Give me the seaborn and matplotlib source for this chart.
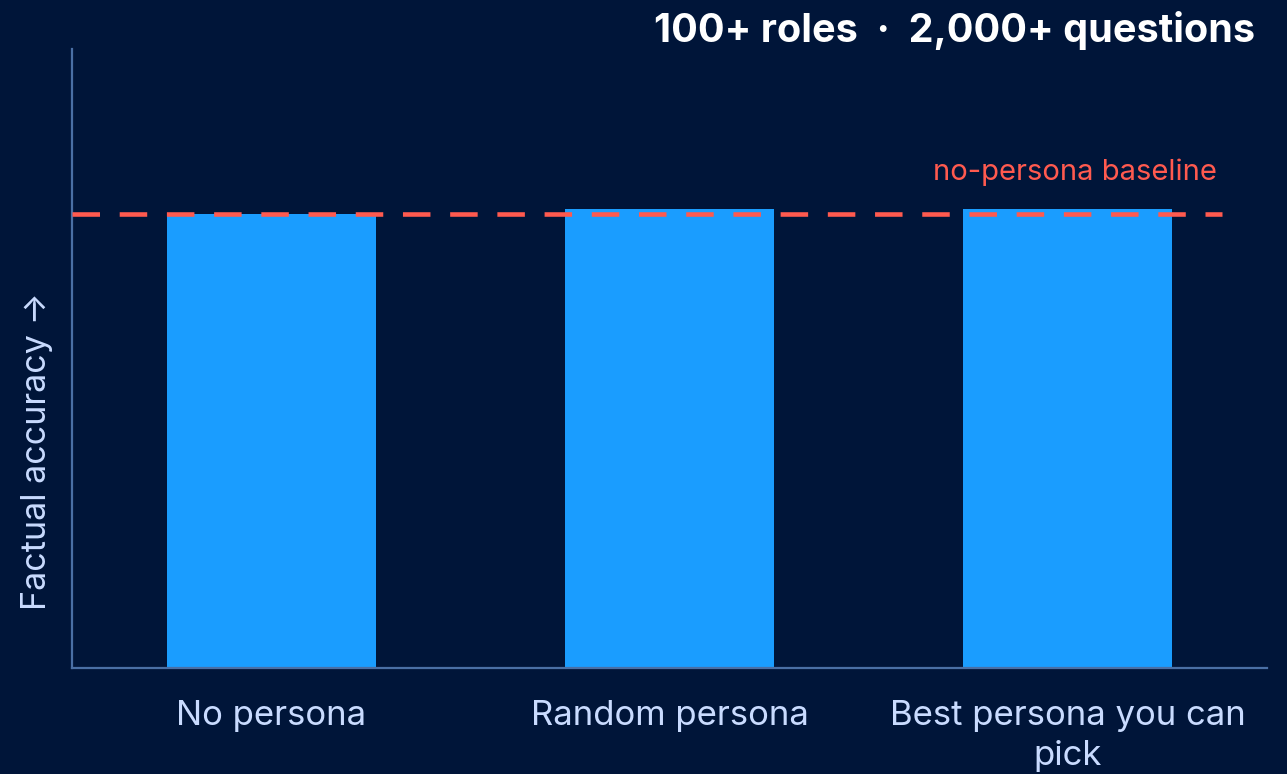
import matplotlib
matplotlib.use("Agg")
import matplotlib.pyplot as plt
import seaborn as sns
import pandas as pd

# data (arbitrary accuracy units, axis runs 0-1)
categories = ["No persona", "Random persona", "Best persona you can\npick"]
accuracy = [0.733, 0.741, 0.741]
baseline = 0.733

BG = "#001539"
BAR = "#1a9dff"
RED = "#ff5a4f"
SPINE = "#4a6fa5"
TXT = "#c9dbff"

sns.set_style("dark")
plt.rcParams["font.family"] = ["Inter", "DejaVu Sans"]

df = pd.DataFrame({"condition": categories, "accuracy": accuracy})

fig = plt.figure(figsize=(12.87, 7.74), dpi=100, facecolor=BG)
ax = fig.add_axes([72 / 1287, 1 - 668 / 774, 1195 / 1287, 619 / 774])
ax.set_facecolor(BG)

sns.barplot(data=df, x="condition", y="accuracy", color=BAR, saturation=1,
            width=0.525, linewidth=0, ax=ax, zorder=2)

ax.set_xlim(-0.5, 2.5)
ax.set_ylim(0, 1)

# dashed baseline
ax.axhline(baseline, xmin=0, xmax=(1222 - 72) / 1195, color=RED, lw=3.3,
           dashes=(6.0, 4.3), zorder=3)
ax.text(2.375, baseline + 0.046, "no-persona baseline", color=RED,
        fontsize=21, ha="right", va="bottom")

ax.grid(False)
for side in ["top", "right"]:
    ax.spines[side].set_visible(False)
for side in ["left", "bottom"]:
    ax.spines[side].set_visible(True)
    ax.spines[side].set_color(SPINE)
    ax.spines[side].set_linewidth(1.6)

ax.set_yticks([])
ax.tick_params(axis="x", length=0, pad=23, labelsize=25, labelcolor=TXT)
for lab in ax.get_xticklabels():
    lab.set_linespacing(1.32)
ax.set_xlabel("")
ax.set_ylabel("Factual accuracy \u2192", color=TXT, fontsize=24.5)
ax.yaxis.set_label_coords(-0.016, 0.35)

fig.text(1255 / 1287, 1 - 11 / 774, "100+ roles  \u00b7  2,000+ questions",
         color="white", fontsize=28.5, fontweight="bold", ha="right", va="top")

fig.savefig("out.png", dpi=100, facecolor=BG)
